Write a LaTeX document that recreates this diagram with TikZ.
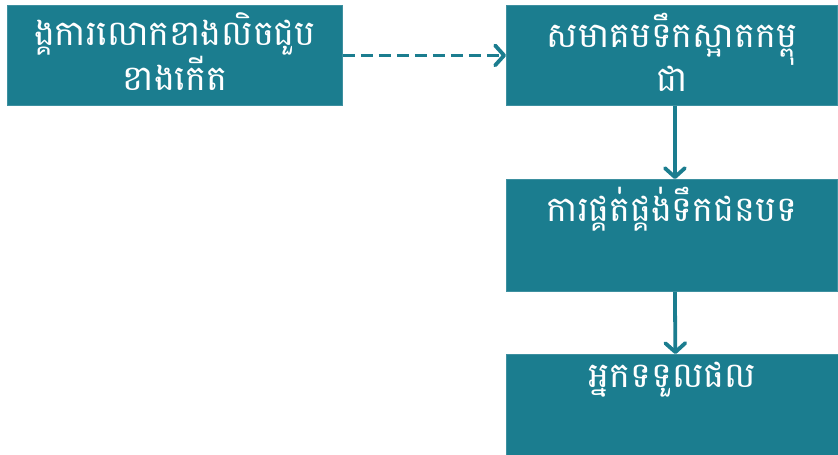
\documentclass[tikz,border=0pt]{standalone}
\usepackage{fontspec}
\newfontfamily\khmer[Script=Khmer]{Battambang}
\usetikzlibrary{arrows.meta}
\definecolor{tealbox}{RGB}{27,125,143}
\begin{document}
\begin{tikzpicture}[x=1pt,y=-1pt,
  box/.style={fill=tealbox, draw=tealbox!85!white, line width=0.8pt, anchor=north west, inner sep=0pt},
  lbl/.style={anchor=north, text=white, align=center, font=\khmer\fontsize{35}{34}\selectfont, inner sep=0pt},
  conn/.style={draw=tealbox, line width=3.8pt, -{Straight Barb[length=9pt,width=20pt,line cap=round,line join=round]}},
]
\useasboundingbox (0,0) rectangle (838,455);
\node[box, minimum width=335pt, minimum height=100pt] (b1) at (7,5) {};
\node[box, minimum width=331pt, minimum height=100pt] (b2) at (506,5) {};
\node[box, minimum width=331pt, minimum height=112pt] (b3) at (506,179) {};
\node[box, minimum width=332pt, minimum height=101pt] (b4) at (506,354) {};
\node[lbl] (t1) at ([yshift=-8pt]b1.north) {ង្គការលោកខាងលិចជួប\\ខាងកើត};
\node[lbl] (t2) at ([yshift=-8pt]b2.north) {សមាគមទឹកស្អាតកម្ពុ\\ជា};
\node[lbl] (t3) at ([yshift=-8pt]b3.north) {ការផ្គត់ផ្គង់ទឹកជនបទ};
\node[lbl] (t4) at ([yshift=-8pt]b4.north) {អ្នកទទួលផល};
\draw[conn, dash pattern=on 12pt off 6pt] (b1.east) -- (b2.west);
\draw[conn] ([xshift=3pt]b2.south) -- ([xshift=3pt]b3.north);
\draw[conn] ([xshift=3pt]b3.south) -- ([xshift=3pt]b4.north);
\end{tikzpicture}
\end{document}
